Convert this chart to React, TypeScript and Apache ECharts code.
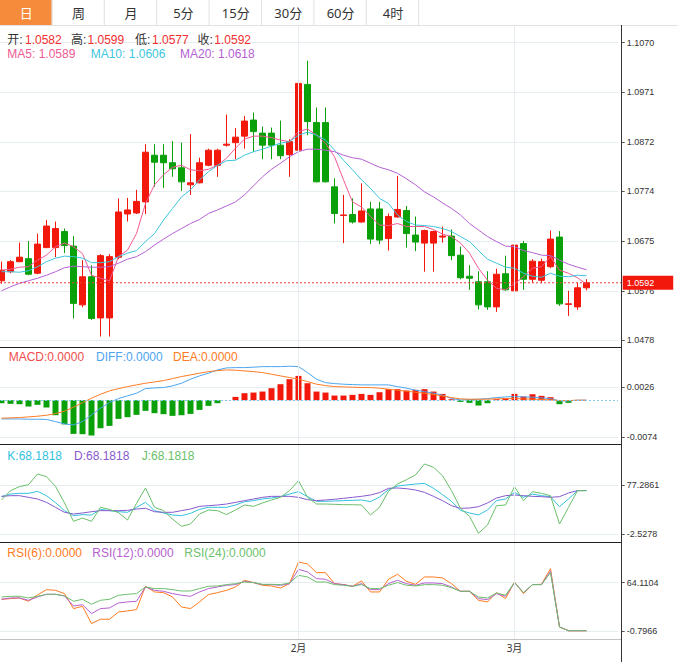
import React, { useEffect, useRef } from "react";
import * as echarts from "echarts";

const tabLabels = ["日", "周", "月", "5分", "15分", "30分", "60分", "4时"];

const opens = [1.0596,1.0614,1.0634,1.0640,1.0611,1.0662,1.0662,1.0694,1.0665,1.0548,1.0604,1.0522,1.0522,1.0643,1.0729,1.0731,1.0753,1.0846,1.0846,1.0831,1.0821,1.0787,1.0791,1.0826,1.0826,1.0866,1.0871,1.0884,1.0916,1.0890,1.0890,1.0866,1.0847,1.0856,1.0987,1.0911,1.0911,1.0783,1.0726,1.0728,1.0713,1.0739,1.0739,1.0680,1.0723,1.0736,1.0687,1.0671,1.0671,1.0683,1.0685,1.0647,1.0605,1.0594,1.0594,1.0544,1.0610,1.0576,1.0670,1.0599,1.0597,1.0624,1.0683,1.0549,1.0544,1.0582];
const closes = [1.0617,1.0634,1.0643,1.0609,1.0669,1.0705,1.0700,1.0666,1.0551,1.0604,1.0521,1.0646,1.0644,1.0733,1.0737,1.0754,1.0852,1.0832,1.0831,1.0819,1.0793,1.0791,1.0831,1.0856,1.0856,1.0868,1.0882,1.0914,1.0893,1.0866,1.0866,1.0845,1.0873,1.0989,1.0913,1.0793,1.0793,1.0730,1.0727,1.0713,1.0735,1.0679,1.0677,1.0724,1.0738,1.0690,1.0673,1.0696,1.0694,1.0685,1.0646,1.0602,1.0601,1.0548,1.0544,1.0609,1.0578,1.0667,1.0599,1.0635,1.0634,1.0679,1.0550,1.0550,1.0582,1.0592];
const lows = [1.0590,1.0611,1.0633,1.0607,1.0609,1.0661,1.0643,1.0651,1.0521,1.0543,1.0518,1.0485,1.0485,1.0639,1.0714,1.0729,1.0729,1.0783,1.0781,1.0803,1.0775,1.0767,1.0790,1.0824,1.0803,1.0863,1.0838,1.0859,1.0853,1.0838,1.0838,1.0838,1.0803,1.0853,1.0886,1.0792,1.0792,1.0710,1.0671,1.0710,1.0712,1.0669,1.0669,1.0656,1.0722,1.0662,1.0655,1.0614,1.0614,1.0672,1.0637,1.0599,1.0578,1.0539,1.0538,1.0534,1.0576,1.0567,1.0578,1.0592,1.0591,1.0621,1.0546,1.0526,1.0538,1.0577];
const highs = [1.0634,1.0637,1.0672,1.0675,1.0690,1.0717,1.0714,1.0700,1.0685,1.0637,1.0627,1.0649,1.0649,1.0760,1.0761,1.0777,1.0868,1.0868,1.0868,1.0874,1.0871,1.0888,1.0841,1.0859,1.0859,1.0927,1.0900,1.0924,1.0931,1.0903,1.0901,1.0915,1.0878,1.1002,1.1034,1.0941,1.0941,1.0800,1.0767,1.0760,1.0790,1.0753,1.0753,1.0730,1.0805,1.0745,1.0724,1.0698,1.0696,1.0704,1.0698,1.0664,1.0627,1.0615,1.0615,1.0620,1.0646,1.0692,1.0675,1.0639,1.0640,1.0696,1.0695,1.0576,1.0592,1.0599];

const ma5 = [1.0617,1.0619,1.0623,1.0624,1.0637,1.0647,1.0664,1.0671,1.0664,1.0650,1.0607,1.0601,1.0596,1.0644,1.0657,1.0690,1.0750,1.0787,1.0807,1.0822,1.0826,1.0817,1.0815,1.0818,1.0826,1.0840,1.0860,1.0878,1.0884,1.0884,1.0881,1.0876,1.0873,1.0893,1.0898,1.0886,1.0870,1.0843,1.0797,1.0753,1.0743,1.0724,1.0707,1.0706,1.0710,1.0704,1.0704,1.0704,1.0698,1.0689,1.0684,1.0671,1.0651,1.0621,1.0597,1.0581,1.0578,1.0590,1.0604,1.0621,1.0624,1.0644,1.0617,1.0611,1.0602,1.0589];
const ma10 = [1.0614,1.0614,1.0613,1.0616,1.0624,1.0634,1.0641,1.0645,1.0644,1.0641,1.0632,1.0632,1.0634,1.0644,1.0651,1.0656,1.0674,1.0690,1.0717,1.0740,1.0763,1.0777,1.0797,1.0813,1.0826,1.0835,1.0836,1.0846,1.0853,1.0858,1.0864,1.0870,1.0873,1.0886,1.0892,1.0886,1.0876,1.0856,1.0836,1.0817,1.0797,1.0780,1.0760,1.0750,1.0727,1.0714,1.0707,1.0706,1.0704,1.0700,1.0694,1.0684,1.0674,1.0656,1.0639,1.0631,1.0623,1.0621,1.0611,1.0605,1.0603,1.0611,1.0605,1.0604,1.0607,1.0606];
const ma20 = [1.0576,1.0584,1.0591,1.0596,1.0601,1.0607,1.0614,1.0622,1.0625,1.0624,1.0623,1.0623,1.0624,1.0631,1.0639,1.0644,1.0654,1.0667,1.0679,1.0690,1.0700,1.0710,1.0718,1.0730,1.0737,1.0745,1.0753,1.0767,1.0785,1.0803,1.0818,1.0830,1.0843,1.0853,1.0858,1.0858,1.0856,1.0853,1.0846,1.0841,1.0838,1.0830,1.0822,1.0817,1.0810,1.0799,1.0787,1.0773,1.0763,1.0751,1.0740,1.0727,1.0710,1.0697,1.0684,1.0674,1.0665,1.0664,1.0656,1.0652,1.0647,1.0646,1.0637,1.0629,1.0623,1.0618];

const macdHist = [-0.00061,-0.00074,-0.00081,-0.00128,-0.00094,-0.00148,-0.00304,-0.00490,-0.00682,-0.00688,-0.00715,-0.00567,-0.00520,-0.00378,-0.00344,-0.00297,-0.00216,-0.00263,-0.00283,-0.00317,-0.00304,-0.00277,-0.00196,-0.00115,-0.00061,0.00002,0.00067,0.00142,0.00155,0.00175,0.00243,0.00324,0.00425,0.00492,0.00344,0.00175,0.00155,0.00094,0.00094,0.00108,0.00128,0.00108,0.00162,0.00223,0.00223,0.00196,0.00209,0.00223,0.00175,0.00128,0.00020,-0.00034,-0.00054,-0.00108,-0.00061,0.00020,0.00040,0.00128,0.00074,0.00121,0.00088,0.00061,-0.00081,-0.00054,0,0];
const diff = [-0.00379,-0.00379,-0.00380,-0.00385,-0.00385,-0.00390,-0.00433,-0.00480,-0.00500,-0.00433,-0.00298,-0.00162,-0.00049,0.00033,0.00088,0.00141,0.00235,0.00249,0.00256,0.00290,0.00344,0.00425,0.00492,0.00547,0.00613,0.00654,0.00660,0.00660,0.00668,0.00680,0.00680,0.00680,0.00688,0.00680,0.00559,0.00425,0.00356,0.00336,0.00324,0.00316,0.00310,0.00310,0.00310,0.00310,0.00275,0.00243,0.00202,0.00174,0.00142,0.00101,0.00033,0.00006,0.00013,0.00020,0.00033,0.00053,0.00067,0.00074,0.00067,0.00061,0.00047,0.00033,-0.00014,-0.00014,0,0];
const dea = [-0.00364,-0.00358,-0.00352,-0.00338,-0.00324,-0.00304,-0.00271,-0.00223,-0.00142,-0.00049,0.00040,0.00121,0.00189,0.00235,0.00275,0.00310,0.00344,0.00370,0.00397,0.00437,0.00478,0.00512,0.00547,0.00579,0.00599,0.00613,0.00607,0.00593,0.00579,0.00559,0.00526,0.00492,0.00458,0.00425,0.00377,0.00324,0.00296,0.00275,0.00269,0.00263,0.00256,0.00256,0.00243,0.00223,0.00202,0.00182,0.00162,0.00142,0.00114,0.00087,0.00053,0.00027,0.00020,0.00020,0.00020,0.00027,0.00033,0.00033,0.00027,0.00020,0.00013,0.00007,-0.00007,-0.00007,0,0];

const kVals = [58.3,62.6,63.7,63.7,67.0,59.9,48.5,35.5,27.3,29.0,28.4,37.6,35.5,33.8,32.8,40.9,49.0,35.5,31.7,28.4,27.3,31.1,37.6,40.9,40.9,40.9,44.7,50.1,51.8,54.5,56.1,58.3,62.6,66.4,58.3,50.7,50.7,51.2,51.8,52.3,52.9,50.1,57.7,69.7,75.7,77.3,78.9,80.0,71.9,61.5,50.7,36.0,31.7,28.4,36.6,51.8,54.5,65.3,57.2,62.6,59.9,58.3,42.0,54.5,68.1,68.1818];
const dVals = [58.8,59.9,59.9,57.2,54.5,49.0,40.9,32.8,30.0,31.7,33.8,35.5,35.5,35.5,36.0,38.2,39.3,33.8,32.8,32.8,35.5,38.2,42.5,43.6,44.7,46.3,49.0,51.8,54.5,57.2,58.8,58.8,58.8,57.2,53.4,51.8,52.9,54.0,55.6,57.2,58.8,61.0,64.8,71.9,72.4,71.3,69.1,65.3,58.8,51.8,43.6,39.3,39.8,42.0,48.0,56.1,59.9,61.0,59.9,58.8,58.3,57.2,58.3,64.3,68.1,68.1818];
const jVals = [52.9,68.1,74.6,77.8,95.2,90.9,75.1,48.0,18.1,23.5,18.1,40.9,37.6,32.2,20.3,47.4,72.4,40.9,35.5,21.9,10.0,13.8,30.0,36.6,35.5,29.0,36.6,44.7,42.5,48.0,52.9,57.2,68.1,84.3,57.2,46.3,46.3,45.8,45.2,45.2,44.7,28.4,40.9,67.0,78.9,86.0,93.6,111.5,106.1,92.5,68.1,39.3,26.2,-1.4,12.1,43.6,44.7,74.6,51.8,66.4,63.7,59.9,13.8,40.9,68.1,68.1818];

const rsi6 = [41.9,42.8,43.7,39.3,47.7,54.8,53.9,49.5,29.5,32.6,9.5,15.3,15.3,25.0,26.4,28.2,59.3,51.7,50.8,45.0,31.7,29.5,38.4,48.2,50.8,53.9,58.4,67.3,64.2,60.6,59.7,57.0,62.8,91.7,89.0,77.5,77.5,62.8,61.5,59.3,66.4,51.7,51.7,68.6,75.3,65.9,61.9,71.7,71.7,70.4,62.8,52.6,52.6,40.6,38.4,50.8,42.8,65.0,49.5,61.5,61.9,82.8,5.0,0,0,0];
const rsi12 = [41.9,43.7,43.7,40.6,45.0,48.6,48.6,46.4,33.0,34.8,22.8,29.5,30.4,37.0,38.4,39.3,58.4,53.9,52.6,49.5,47.3,45.9,51.7,56.2,58.4,60.6,61.5,65.9,64.2,61.5,61.5,60.6,62.8,81.9,78.4,69.5,68.6,62.8,61.5,59.3,62.8,54.8,54.8,62.8,67.3,62.8,60.6,63.7,63.7,62.8,58.4,52.6,52.6,42.8,41.5,49.5,45.9,64.2,50.8,61.5,61.5,79.3,5.0,0,0,0];
const rsi24 = [45.0,45.9,45.9,43.7,45.9,48.6,48.6,46.4,39.3,41.9,35.3,40.6,41.9,47.3,48.6,49.5,58.4,56.2,56.2,54.8,53.0,53.0,56.2,59.3,59.7,61.5,62.8,65.0,64.2,61.9,61.9,61.5,63.7,73.9,71.7,65.0,65.0,61.5,60.6,59.3,61.5,56.2,56.2,60.6,64.2,60.6,59.7,61.5,61.5,60.6,57.5,52.6,52.6,45.0,43.7,50.4,47.3,64.2,50.8,61.5,61.5,77.5,5.0,0,0,0];

const monthTicks: Record<number, string> = { 33: "2月", 57: "3月" };
const priceTicks = [1.0478, 1.0576, 1.0675, 1.0774, 1.0872, 1.0971, 1.107];
const macdTicks = [-0.0074, 0.0026];
const kdjTicks = [-2.5278, 77.2861];
const rsiTicks = [-0.7966, 64.1104];
const EMPTY_SLOTS = 3;

const UP = "#f2190c";
const DOWN = "#0aa00a";
const GRIDC = "#e6edf1";
const PRICE_LINE = "#f03c3c";
const FONT = "'Noto Sans', 'Noto Sans CJK SC', sans-serif";
const LEGFONT = "'Liberation Sans', 'Noto Sans CJK SC', sans-serif";
const AXFONT = "'Liberation Sans', Arial, sans-serif";
const C = {
  ma5: "#ef5a93", ma10: "#3cc5dc", ma20: "#b560d3",
  macd: "#f04c4c", diff: "#4ca5ef", dea: "#ff7b24",
  k: "#33c1dd", d: "#8759cc", j: "#6abf6a",
  r6: "#ff7b1e", r12: "#b660d0", r24: "#6cbf6c",
};

export default function App() {
  const ref = useRef<HTMLDivElement>(null);
  useEffect(() => {
    const chart = echarts.init(ref.current!, null, { renderer: "svg" });
    const n = opens.length;
    const last = n - 1;
    const categories = Array.from({ length: n + EMPTY_SLOTS }, (_, i) => String(i));
    const f4 = (v: number) => Number(v).toFixed(4);

    const gridBase = { left: -3, right: 60, containLabel: false, outerBoundsMode: "none" };
    const grids = [
      { ...gridBase, top: 26, height: 321 },
      { ...gridBase, top: 347, height: 97 },
      { ...gridBase, top: 444, height: 98 },
      { ...gridBase, top: 542, height: 97 },
    ];
    const xAxes = grids.map((_, i) => ({
      type: "category",
      gridIndex: i,
      data: categories,
      boundaryGap: true,
      axisLine: { show: false },
      axisTick: { show: false },
      splitLine: { show: false },
      axisLabel:
        i === 3
          ? {
              show: true,
              interval: (idx: number) => monthTicks[idx] !== undefined,
              formatter: (_v: string, idx: number) => monthTicks[idx] ?? "",
              margin: 4,
              fontSize: 10,
              color: "#333",
              fontFamily: FONT,
            }
          : { show: false },
    }));
    const yAx = (gridIndex: number, min: number, max: number, ticks: number[]) => ({
      type: "value",
      gridIndex,
      position: "right",
      offset: 3.7,
      min,
      max,
      axisLine: { show: false },
      axisTick: { show: true, customValues: ticks, length: 3, lineStyle: { color: "#555" } },
      axisLabel: { customValues: ticks, formatter: f4, margin: 5, fontSize: 9, color: "#333", fontFamily: AXFONT },
      splitLine: { show: true, lineStyle: { color: GRIDC, width: 1 } },
    });
    const yAxes = [
      yAx(0, 1.04641, 1.11033, priceTicks),
      yAx(1, -0.008866, 0.01077, macdTicks),
      yAx(2, -15.56, 144.07, kdjTicks),
      yAx(3, -11.06, 118.36, rsiTicks),
    ];
    const monthLines = Object.keys(monthTicks).map((k) => ({
      xAxis: Number(k),
      lineStyle: { color: GRIDC, type: "solid", width: 1 },
      label: { show: false },
    }));
    const line = (name: string, data: number[], color: string, idx: number, extra: any = {}) => ({
      name,
      type: "line",
      xAxisIndex: idx,
      yAxisIndex: idx,
      data,
      symbol: "none",
      showSymbol: false,
      lineStyle: { color, width: 1 },
      itemStyle: { color },
      silent: true,
      z: 3,
      ...extra,
    });
    const monthMark = {
      silent: true,
      symbol: ["none", "none"],
      lineStyle: { color: GRIDC, type: "solid", width: 1 },
      label: { show: false },
      data: monthLines,
    };

    const series: any[] = [
      {
        type: "candlestick",
        xAxisIndex: 0,
        yAxisIndex: 0,
        barWidth: 7,
        data: opens.map((o, i) => [o, closes[i], lows[i], highs[i]]),
        itemStyle: { color: UP, color0: DOWN, borderColor: UP, borderColor0: DOWN, borderWidth: 1 },
        silent: true,
        markLine: monthMark,
      },
      line("MA5", ma5, C.ma5, 0),
      line("MA10", ma10, C.ma10, 0),
      line("MA20", ma20, C.ma20, 0, {
        markLine: {
          silent: true,
          precision: 4,
          symbol: ["none", "none"],
          lineStyle: { color: "rgba(0,0,0,0)", width: 0 },
          emphasis: { disabled: true },
          label: {
            show: true,
            position: "end",
            distance: 4.7,
            formatter: (p: any) => f4(p.value),
            color: "#fff",
            opacity: 1,
            backgroundColor: UP,
            padding: [2, 19, 2, 4],
            fontSize: 9,
            lineHeight: 10,
            fontFamily: AXFONT,
          },
          data: [{ yAxis: closes[last] }],
        },
      }),
      {
        type: "bar",
        xAxisIndex: 1,
        yAxisIndex: 1,
        barWidth: 6,
        silent: true,
        data: macdHist.map((v) => ({ value: v, itemStyle: { color: v >= 0 ? UP : DOWN } })),
        markLine: {
          silent: true,
          precision: 6,
          symbol: ["none", "none"],
          label: { show: false },
          data: [
            ...monthLines,
            { yAxis: 0, lineStyle: { color: "#86c8f0", type: [2, 2], width: 1 }, label: { show: false } },
          ],
        },
      },
      line("DIFF", diff, C.diff, 1),
      line("DEA", dea, C.dea, 1),
      line("K", kVals, C.k, 2, { markLine: monthMark }),
      line("D", dVals, C.d, 2),
      line("J", jVals, C.j, 2),
      line("RSI6", rsi6, C.r6, 3, { markLine: monthMark }),
      line("RSI12", rsi12, C.r12, 3),
      line("RSI24", rsi24, C.r24, 3),
    ];

    const txt = (text: string, x: number, y: number, fill: string, size = 12) => ({
      type: "text",
      x,
      y,
      z: 50,
      silent: true,
      style: {
        text,
        fill,
        font: `${size}px ${LEGFONT}`,
        fontSize: size,
        fontFamily: LEGFONT,
        lineHeight: 12,
        verticalAlign: "middle",
        textVerticalAlign: "middle",
        align: "left",
        textAlign: "left",
      },
    });
    const hline = (y: number, x1: number, x2: number, stroke: string) => ({
      type: "line",
      z: 60,
      silent: true,
      shape: { x1, y1: y, x2, y2: y },
      style: { stroke, lineWidth: 1 },
    });

    const tabW = 52.4;
    const tabs: any[] = [];
    tabLabels.forEach((t, i) => {
      tabs.push({
        type: "rect",
        z: 40,
        silent: true,
        shape: { x: i * tabW, y: 0, width: tabW, height: 25 },
        style: { fill: i === 0 ? "#f68b3c" : "#ffffff" },
      });
      tabs.push({
        type: "text",
        z: 41,
        silent: true,
        x: i * tabW + tabW / 2,
        y: 12.5,
        style: {
          text: t,
          fill: i === 0 ? "#ffffff" : "#333333",
          font: `13px ${FONT}`,
          fontSize: 13,
          fontFamily: FONT,
          align: "center",
          textAlign: "center",
          verticalAlign: "middle",
          textVerticalAlign: "middle",
        },
      });
      tabs.push({
        type: "line",
        z: 42,
        silent: true,
        shape: { x1: (i + 1) * tabW - 0.5, y1: 0, x2: (i + 1) * tabW - 0.5, y2: 25 },
        style: { stroke: "#e2e2e2", lineWidth: 1 },
      });
    });

    const dark = "#333333";
    const red = "#f23030";
    const y1 = 39.6;
    const y2 = 53.6;
    const graphic: any[] = [
      ...tabs,
      hline(25.5, 0, 678, "#e2e2e2"),
      txt("开:", 7.3, y1, dark),
      txt(f4(opens[last]), 25, y1, red),
      txt("高:", 71, y1, dark),
      txt(f4(highs[last]), 87.5, y1, red),
      txt("低:", 135, y1, dark),
      txt(f4(lows[last]), 152, y1, red),
      txt("收:", 197.5, y1, dark),
      txt(f4(closes[last]), 214.3, y1, red),
      txt("MA5: " + f4(ma5[last]), 7.3, y2, C.ma5),
      txt("MA10: " + f4(ma10[last]), 90.7, y2, C.ma10),
      txt("MA20: " + f4(ma20[last]), 180, y2, C.ma20),
      txt("MACD:" + f4(macdHist[last]), 8.7, 356.7, C.macd),
      txt("DIFF:" + f4(diff[last]), 96, 356.7, C.diff),
      txt("DEA:" + f4(dea[last]), 173, 356.7, C.dea),
      txt("K:" + f4(kVals[last]), 7.3, 455.7, C.k),
      txt("D:" + f4(dVals[last]), 74, 455.7, C.d),
      txt("J:" + f4(jVals[last]), 141.7, 455.7, C.j),
      txt("RSI(6):" + f4(rsi6[last]), 7.3, 552.7, C.r6),
      txt("RSI(12):" + f4(rsi12[last]), 92.3, 552.7, C.r12),
      txt("RSI(24):" + f4(rsi24[last]), 184.3, 552.7, C.r24),
      hline(347.5, 0, 621.5, "#222222"),
      hline(444.5, 0, 621.5, "#222222"),
      hline(542.5, 0, 621.5, "#222222"),
      hline(639.5, 0, 621.5, "#c4c4c4"),
      {
        type: "line",
        z: 60,
        silent: true,
        shape: { x1: 621.5, y1: 25, x2: 621.5, y2: 662 },
        style: { stroke: "#333333", lineWidth: 1 },
      },
    ];

    chart.setOption({
      animation: false,
      backgroundColor: "#ffffff",
      textStyle: { fontFamily: FONT },
      grid: grids,
      xAxis: xAxes,
      yAxis: yAxes,
      series,
      graphic,
    });

    // dotted last-price line, placed through the price axis scale
    const py = chart.convertToPixel({ yAxisIndex: 0 } as any, closes[last]) as unknown as number;
    if (typeof py === "number" && isFinite(py)) {
      chart.setOption({
        graphic: [
          ...graphic,
          {
            type: "line",
            z: 20,
            silent: true,
            shape: { x1: 0, y1: py, x2: 621, y2: py },
            style: { stroke: PRICE_LINE, lineWidth: 1, lineDash: [2, 2] },
          },
        ],
      });
    }
    return () => chart.dispose();
  }, []);
  return <div ref={ref} style={{ position: "absolute", left: 0, top: 0, width: 678, height: 662 }} />;
}
